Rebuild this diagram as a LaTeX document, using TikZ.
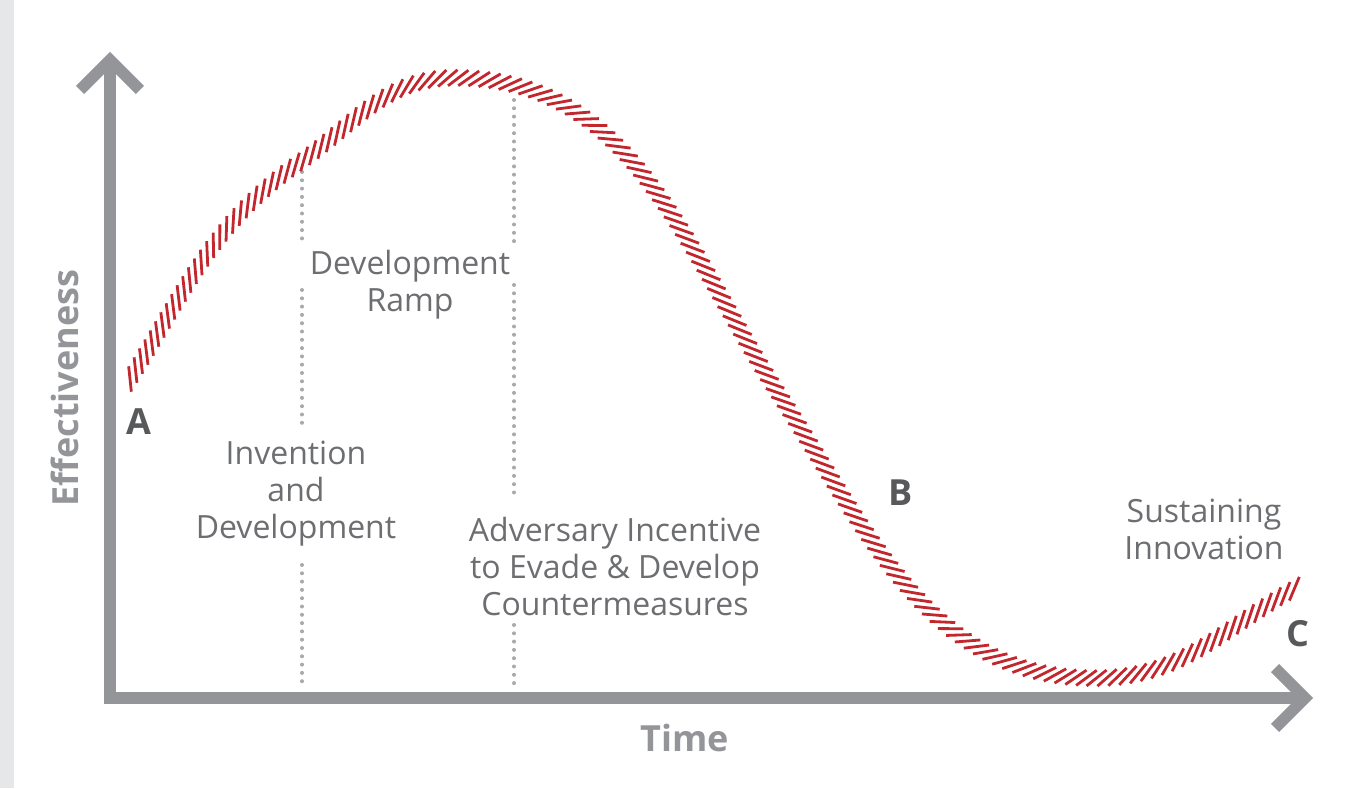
\documentclass[tikz,border=0pt]{standalone}
\usepackage{fontspec}
\setmainfont{Open Sans}
\usetikzlibrary{decorations.markings}
\definecolor{axisgray}{HTML}{939598}
\definecolor{stripgray}{HTML}{E6E7E8}
\definecolor{labelgray}{HTML}{6D6E71}
\definecolor{lettergray}{HTML}{58595B}
\definecolor{curvered}{HTML}{C1272D}
\definecolor{dotgray}{HTML}{A7A9AC}
\tikzset{
 axisline/.style={draw=axisgray, line width=5.75pt, line join=miter},
 dotline/.style={draw=dotgray, line width=2pt, line cap=round, dash pattern=on 0pt off 4.15pt},
 hatchline/.style={draw=curvered, line width=1.4pt},
 lbl/.style={text=labelgray, font=\fontsize{16}{18.5}\selectfont, align=center, inner sep=0pt},
 letter/.style={text=lettergray, font=\bfseries\fontsize{18}{20}\selectfont, inner sep=0pt},
 axlbl/.style={text=axisgray, font=\bfseries\fontsize{18}{20}\selectfont, inner sep=0pt},
 hatched/.style={decorate, decoration={markings,
   mark=between positions 0 and 1 step 5.25pt with {\draw[hatchline] (218:6.4pt) -- (38:6.4pt);}}}
}
\begin{document}
\begin{tikzpicture}[x=0.5pt,y=0.5pt]
\useasboundingbox (0,0) rectangle (1360,788);
\fill[stripgray] (0,0) rectangle (14,788);

% axes
\coordinate (ytip) at (110,728);
\coordinate (origin) at (110,90);
\coordinate (xtip) at (1305,90);
\draw[axisline] (ytip) -- (origin) -- (xtip);
\draw[axisline] (80,698) -- (ytip) -- (140,698);
\draw[axisline] (1275,120) -- (xtip) -- (1275,60);

% dotted guides
\coordinate (l1a) at (302,616); \coordinate (l1b) at (302,545);
\coordinate (l2a) at (302,498); \coordinate (l2b) at (302,363);
\coordinate (l3a) at (302,223); \coordinate (l3b) at (302,100);
\coordinate (r1a) at (514,688); \coordinate (r1b) at (514,543);
\coordinate (r2a) at (514,503); \coordinate (r2b) at (514,288);
\coordinate (r3a) at (514,163); \coordinate (r3b) at (514,103);
\draw[dotline] (l1a) -- (l1b);
\draw[dotline] (l2a) -- (l2b);
\draw[dotline] (l3a) -- (l3b);
\draw[dotline] (r1a) -- (r1b);
\draw[dotline] (r2a) -- (r2b);
\draw[dotline] (r3a) -- (r3b);

% hatched curve
\coordinate (c0) at (130,409);
\coordinate (c1) at (300,626);
\coordinate (c2) at (455,710);
\coordinate (c3) at (780,392);
\coordinate (c4) at (1095,110);
\coordinate (c5) at (1303,204);
\path[hatched] (c0) to[out=58,in=215] (c1) to[out=35,in=180] (c2)
  to[out=0,in=123] (c3) to[out=-57,in=180] (c4) to[out=0,in=208] (c5);

% labels
\node[lbl] (ramp) at (410,503) {Development\\Ramp};
\node[lbl] (invent) at (296,294) {Invention\\and\\Development};
\node[lbl] (adv) at (615,222) {Adversary Incentive\\to Evade \& Develop\\Countermeasures};
\node[lbl] (sust) at (1204,259) {Sustaining\\Innovation};
\node[letter] (A) at (139,366) {A};
\node[letter] (B) at (901,295) {B};
\node[letter] (C) at (1298,154) {C};
\node[axlbl, rotate=90] (eff) at (65,400) {Effectiveness};
\node[axlbl] (time) at (685,50) {Time};
\end{tikzpicture}
\end{document}
